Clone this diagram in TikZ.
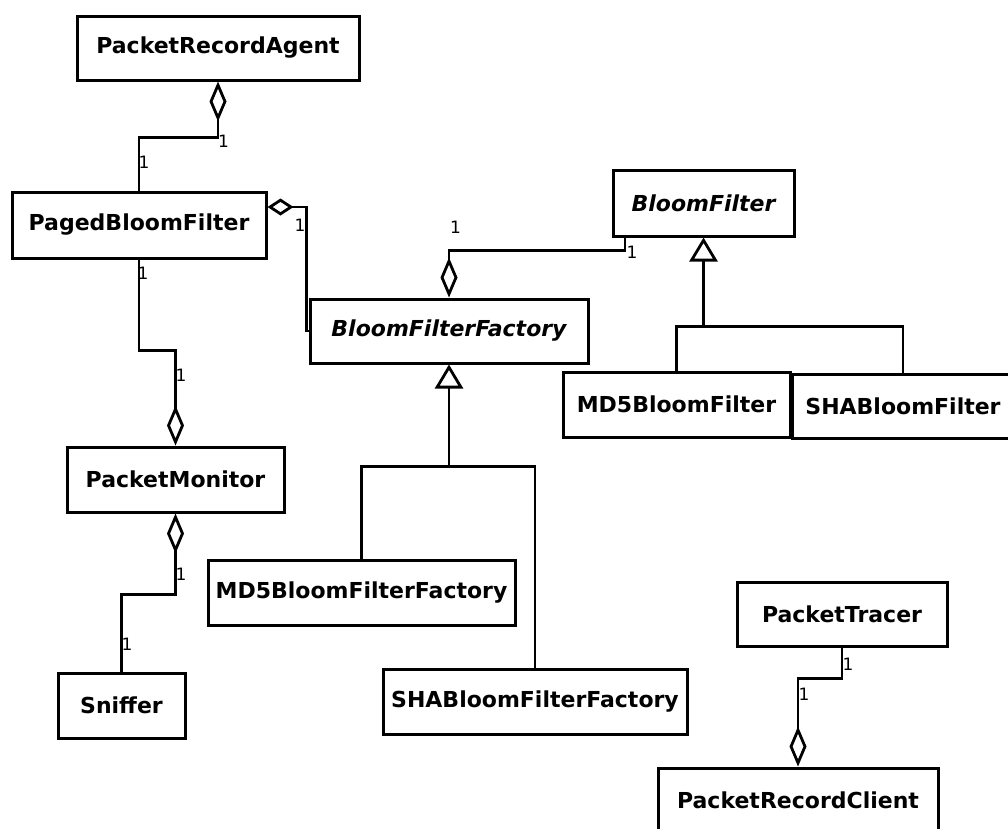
\documentclass[tikz,border=0pt]{standalone}
\usepackage{fontspec}
\setmainfont{DejaVu Sans}
\usetikzlibrary{arrows.meta}
\begin{document}
\begin{tikzpicture}[x=1pt,y=-1pt,
  cls/.style={draw, line width=3pt, rectangle, inner sep=0pt,
    font=\fontsize{22}{26}\selectfont\bfseries},
  abstractcls/.style={cls, font=\fontsize{22}{26}\selectfont\bfseries\itshape},
  conn/.style={line width=2.8pt},
  agg/.style={conn, {Diamond[open,length=40pt,width=17pt]}-},
  aggshort/.style={conn, {Diamond[open,length=26pt,width=17pt]}-},
  gen/.style={conn, {Triangle[open,length=24pt,width=28pt]}-},
  mult/.style={font=\fontsize{17}{19}\selectfont, inner sep=0pt}
]
\useasboundingbox (0,0) rectangle (1008,828);
\fill[white] (0,0) rectangle (1008,828);

% classes
\node[cls, minimum width=282pt, minimum height=64pt] (pra) at (218,48) {PacketRecordAgent};
\node[cls, minimum width=254pt, minimum height=66pt] (pbf) at (139,225) {PagedBloomFilter};
\node[abstractcls, minimum width=181pt, minimum height=66pt] (bf) at (703.5,203) {BloomFilter};
\node[abstractcls, minimum width=278pt, minimum height=64pt] (bff) at (449,331) {BloomFilterFactory};
\node[cls, minimum width=227pt, minimum height=65pt] (md5bf) at (676.5,404.5) {MD5BloomFilter};
\node[cls, minimum width=222pt, minimum height=64pt] (shabf) at (903,406) {SHABloomFilter};
\node[cls, minimum width=217pt, minimum height=65pt] (pm) at (175.5,479.5) {PacketMonitor};
\node[cls, minimum width=307pt, minimum height=65pt] (md5bff) at (361.5,592.5) {MD5BloomFilterFactory};
\node[cls, minimum width=304pt, minimum height=65pt] (shabff) at (535,701.5) {SHABloomFilterFactory};
\node[cls, minimum width=127pt, minimum height=65pt] (sn) at (121.5,705.5) {Sniffer};
\node[cls, minimum width=210pt, minimum height=64pt] (pt) at (842,614) {PacketTracer};
\node[cls, minimum width=280pt, minimum height=64pt] (prc) at (798,800) {PacketRecordClient};

% aggregations
\draw[agg] (pra.south) -- ++(0,56) -| (pbf.north);
\draw[aggshort] ([yshift=18pt]pbf.east) -- ++(39,0) |- (bff.west);
\draw[agg] (bff.north) -- ++(0,-47) -| ([xshift=-78.5pt]bf.south);
\draw[agg] (pm.north) -- ++(0,-95) -| (pbf.south);
\draw[agg] (pm.south) -- ++(0,81) -| (sn.north);
\draw[agg] (prc.north) -- ++(0,-88) -| (pt.south);

% generalizations
\draw[gen] (bf.south) -- ++(0,89) coordinate (bfj);
\draw[conn] (bfj) -| (md5bf.north);
\draw[conn] (bfj) -| (shabf.north);
\draw[gen] (bff.south) -- ++(0,102) coordinate (bffj);
\draw[conn] (bffj) -| (md5bff.north);
\draw[conn] (bffj) -| (shabff.north);

% multiplicities
\node[mult] (m1) at (223.5,141.5) {1};
\node[mult] (m2) at (144,162) {1};
\node[mult] (m3) at (300,225) {1};
\node[mult] (m4) at (455.5,227) {1};
\node[mult] (m5) at (632,252) {1};
\node[mult] (m6) at (143,273) {1};
\node[mult] (m7) at (181,375) {1};
\node[mult] (m8) at (181,574) {1};
\node[mult] (m9) at (127,644) {1};
\node[mult] (m10) at (848,664) {1};
\node[mult] (m11) at (804,694) {1};
\end{tikzpicture}
\end{document}
